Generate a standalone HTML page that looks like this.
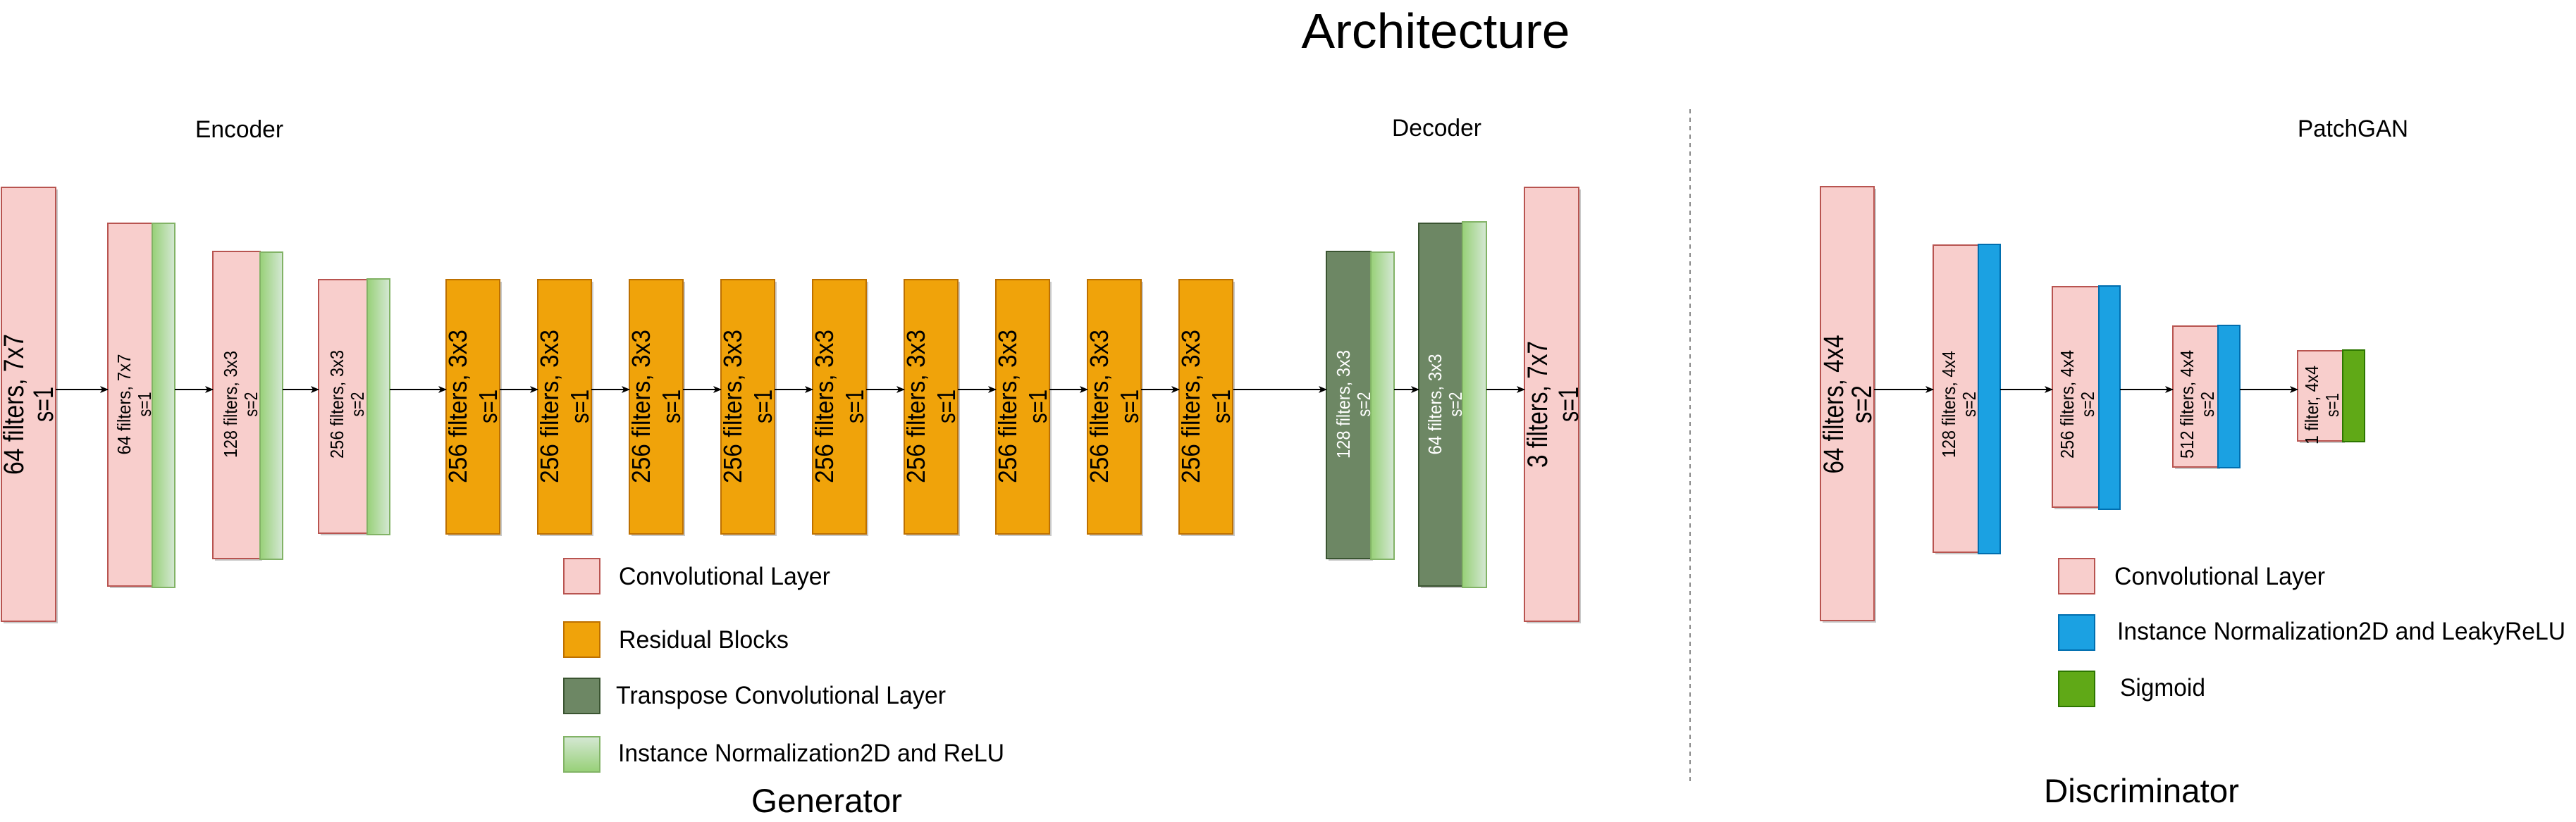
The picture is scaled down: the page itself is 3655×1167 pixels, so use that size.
<!DOCTYPE html>
<html><head><meta charset="utf-8">
<style>
html,body{margin:0;padding:0;background:#fff;}
svg{display:block;font-family:"Liberation Sans",Arial,sans-serif;}
</style></head>
<body>
<svg width="3655" height="1167" viewBox="0 0 3655 1167" xmlns="http://www.w3.org/2000/svg">
<defs>
<linearGradient id="gH" x1="0" y1="0" x2="1" y2="0"><stop offset="0" stop-color="#97d077"/><stop offset="1" stop-color="#d5e8d4"/></linearGradient>
<linearGradient id="gV" x1="0" y1="0" x2="0" y2="1"><stop offset="0" stop-color="#d5e8d4"/><stop offset="1" stop-color="#97d077"/></linearGradient>
<marker id="ah" markerWidth="12" markerHeight="10" refX="11" refY="5" orient="auto" markerUnits="userSpaceOnUse"><path d="M0,0 L12,5 L0,10 L3,5 Z" fill="#000"/></marker>
</defs>
<rect width="3655" height="1167" fill="#fff"/>

<text x="2037" y="68" font-size="70" text-anchor="middle" textLength="381" lengthAdjust="spacingAndGlyphs">Architecture</text>
<text x="277" y="195" font-size="34" textLength="125" lengthAdjust="spacingAndGlyphs">Encoder</text>
<text x="1975" y="193" font-size="34" textLength="127" lengthAdjust="spacingAndGlyphs">Decoder</text>
<text x="3260" y="194" font-size="34" textLength="157" lengthAdjust="spacingAndGlyphs">PatchGAN</text>
<line x1="2398" y1="155" x2="2398" y2="1114" stroke="#888" stroke-width="2" stroke-dasharray="6,6"/>

<g id="shadows" fill="#c8c8c8">
<rect x="5" y="269" width="77" height="616"/>
<rect x="156" y="320" width="63" height="515"/>
<rect x="305" y="360" width="67" height="436"/>
<rect x="455" y="400" width="69" height="360"/>
<rect x="1885" y="360" width="63" height="436"/>
<rect x="2016" y="320" width="62" height="515"/>
<rect x="2166" y="269" width="77" height="616"/>
<rect x="2586" y="268" width="76" height="616"/>
<rect x="2746" y="351" width="64" height="436"/>
<rect x="2915" y="410" width="66" height="313"/>
<rect x="3086" y="466" width="64" height="200"/>
<rect x="3263" y="501" width="64" height="128"/>
</g>

<g stroke-width="2">
<rect x="2" y="266" width="77" height="616" fill="#f8cecc" stroke="#b85450"/>
<rect x="153" y="317" width="63" height="515" fill="#f8cecc" stroke="#b85450"/>
<rect x="216" y="317" width="32" height="517" fill="url(#gH)" stroke="#82b366"/>
<rect x="302" y="357" width="67" height="436" fill="#f8cecc" stroke="#b85450"/>
<rect x="369" y="358" width="32" height="436" fill="url(#gH)" stroke="#82b366"/>
<rect x="452" y="397" width="69" height="360" fill="#f8cecc" stroke="#b85450"/>
<rect x="521" y="396" width="32" height="363" fill="url(#gH)" stroke="#82b366"/>
</g>

<g id="res" stroke-width="2"></g>

<g stroke-width="2">
<rect x="1882" y="357" width="63" height="436" fill="#6d8764" stroke="#3a5431"/>
<rect x="1945" y="358" width="33" height="436" fill="url(#gH)" stroke="#82b366"/>
<rect x="2013" y="317" width="62" height="515" fill="#6d8764" stroke="#3a5431"/>
<rect x="2075" y="315" width="34" height="519" fill="url(#gH)" stroke="#82b366"/>
<rect x="2163" y="266" width="77" height="616" fill="#f8cecc" stroke="#b85450"/>

<rect x="2583" y="265" width="76" height="616" fill="#f8cecc" stroke="#b85450"/>
<rect x="2743" y="348" width="64" height="436" fill="#f8cecc" stroke="#b85450"/>
<rect x="2807" y="347" width="31" height="439" fill="#1ba1e2" stroke="#006eaf"/>
<rect x="2912" y="407" width="66" height="313" fill="#f8cecc" stroke="#b85450"/>
<rect x="2978" y="406" width="30" height="317" fill="#1ba1e2" stroke="#006eaf"/>
<rect x="3083" y="463" width="64" height="200" fill="#f8cecc" stroke="#b85450"/>
<rect x="3147" y="462" width="31" height="202" fill="#1ba1e2" stroke="#006eaf"/>
<rect x="3260" y="498" width="64" height="128" fill="#f8cecc" stroke="#b85450"/>
<rect x="3324" y="497" width="31" height="130" fill="#60a917" stroke="#2d7600"/>
</g>

<g id="arrows" stroke="#000" stroke-width="2" marker-end="url(#ah)">
<line x1="79" y1="553" x2="153" y2="553"/>
<line x1="248" y1="553" x2="302" y2="553"/>
<line x1="401" y1="553" x2="452" y2="553"/>
<line x1="553" y1="553" x2="633" y2="553"/>
<line x1="1750" y1="553" x2="1882" y2="553"/>
<line x1="1978" y1="553" x2="2013" y2="553"/>
<line x1="2109" y1="553" x2="2163" y2="553"/>
<line x1="2659" y1="553" x2="2743" y2="553"/>
<line x1="2838" y1="553" x2="2912" y2="553"/>
<line x1="3008" y1="553" x2="3083" y2="553"/>
<line x1="3178" y1="553" x2="3260" y2="553"/>
</g>

<g text-anchor="middle" lengthAdjust="spacingAndGlyphs">
<text transform="translate(40,574) rotate(-90)" font-size="40"><tspan x="0" y="-7" textLength="200" lengthAdjust="spacingAndGlyphs">64 filters, 7x7</tspan><tspan x="0" y="35" textLength="50" lengthAdjust="spacingAndGlyphs">s=1</tspan></text>
<text transform="translate(190,574) rotate(-90)" font-size="26"><tspan x="0" y="-5" textLength="143" lengthAdjust="spacingAndGlyphs">64 filters, 7x7</tspan><tspan x="0" y="24" textLength="35" lengthAdjust="spacingAndGlyphs">s=1</tspan></text>
<text transform="translate(341,574) rotate(-90)" font-size="26"><tspan x="0" y="-5" textLength="152" lengthAdjust="spacingAndGlyphs">128 filters, 3x3</tspan><tspan x="0" y="24" textLength="35" lengthAdjust="spacingAndGlyphs">s=2</tspan></text>
<text transform="translate(492,574) rotate(-90)" font-size="26"><tspan x="0" y="-5" textLength="154" lengthAdjust="spacingAndGlyphs">256 filters, 3x3</tspan><tspan x="0" y="24" textLength="35" lengthAdjust="spacingAndGlyphs">s=2</tspan></text>
<text transform="translate(1920,574) rotate(-90)" font-size="26" fill="#fff"><tspan x="0" y="-5" textLength="154" lengthAdjust="spacingAndGlyphs">128 filters, 3x3</tspan><tspan x="0" y="24" textLength="35" lengthAdjust="spacingAndGlyphs">s=2</tspan></text>
<text transform="translate(2050,574) rotate(-90)" font-size="26" fill="#fff"><tspan x="0" y="-5" textLength="143" lengthAdjust="spacingAndGlyphs">64 filters, 3x3</tspan><tspan x="0" y="24" textLength="35" lengthAdjust="spacingAndGlyphs">s=2</tspan></text>
<text transform="translate(2203,574) rotate(-90)" font-size="40"><tspan x="0" y="-8" textLength="180" lengthAdjust="spacingAndGlyphs">3 filters, 7x7</tspan><tspan x="0" y="36" textLength="50" lengthAdjust="spacingAndGlyphs">s=1</tspan></text>
<text transform="translate(2621,574) rotate(-90)" font-size="40"><tspan x="0" y="-6" textLength="197" lengthAdjust="spacingAndGlyphs">64 filters, 4x4</tspan><tspan x="0" y="34" textLength="54" lengthAdjust="spacingAndGlyphs">s=2</tspan></text>
<text transform="translate(2779,574) rotate(-90)" font-size="26"><tspan x="0" y="-5" textLength="152" lengthAdjust="spacingAndGlyphs">128 filters, 4x4</tspan><tspan x="0" y="24" textLength="36" lengthAdjust="spacingAndGlyphs">s=2</tspan></text>
<text transform="translate(2947,574) rotate(-90)" font-size="26"><tspan x="0" y="-5" textLength="154" lengthAdjust="spacingAndGlyphs">256 filters, 4x4</tspan><tspan x="0" y="24" textLength="36" lengthAdjust="spacingAndGlyphs">s=2</tspan></text>
<text transform="translate(3117,574) rotate(-90)" font-size="26"><tspan x="0" y="-5" textLength="154" lengthAdjust="spacingAndGlyphs">512 filters, 4x4</tspan><tspan x="0" y="24" textLength="36" lengthAdjust="spacingAndGlyphs">s=2</tspan></text>
<text transform="translate(3294,575) rotate(-90)" font-size="26"><tspan x="0" y="-5" textLength="112" lengthAdjust="spacingAndGlyphs">1 filter, 4x4</tspan><tspan x="0" y="24" textLength="34" lengthAdjust="spacingAndGlyphs">s=1</tspan></text>
</g>

<g stroke-width="2">
<rect x="800" y="793" width="51" height="50" fill="#f8cecc" stroke="#b85450"/>
<rect x="800" y="883" width="51" height="50" fill="#f0a30a" stroke="#bd7000"/>
<rect x="800" y="963" width="51" height="50" fill="#6d8764" stroke="#3a5431"/>
<rect x="800" y="1046" width="51" height="50" fill="url(#gV)" stroke="#82b366"/>
<rect x="2921" y="793" width="51" height="50" fill="#f8cecc" stroke="#b85450"/>
<rect x="2921" y="873" width="51" height="50" fill="#1ba1e2" stroke="#006eaf"/>
<rect x="2921" y="953" width="51" height="50" fill="#60a917" stroke="#2d7600"/>
</g>
<g font-size="35">
<text x="878" y="830" textLength="300" lengthAdjust="spacingAndGlyphs">Convolutional Layer</text>
<text x="878" y="920" textLength="241" lengthAdjust="spacingAndGlyphs">Residual Blocks</text>
<text x="874" y="999" textLength="468" lengthAdjust="spacingAndGlyphs">Transpose Convolutional Layer</text>
<text x="877" y="1081" textLength="548" lengthAdjust="spacingAndGlyphs">Instance Normalization2D and ReLU</text>
<text x="3000" y="830" textLength="299" lengthAdjust="spacingAndGlyphs">Convolutional Layer</text>
<text x="3004" y="908" textLength="636" lengthAdjust="spacingAndGlyphs">Instance Normalization2D and LeakyReLU</text>
<text x="3008" y="988" textLength="121" lengthAdjust="spacingAndGlyphs">Sigmoid</text>
</g>
<text x="1066" y="1153" font-size="47" textLength="214" lengthAdjust="spacingAndGlyphs">Generator</text>
<text x="2900" y="1139" font-size="47" textLength="277" lengthAdjust="spacingAndGlyphs">Discriminator</text>
</svg>
<script>
var NS='http://www.w3.org/2000/svg';
var res=document.getElementById('res');
var arrows=document.getElementById('arrows');
for(var i=0;i<9;i++){
  var x=633+130*i;
  var sh=document.createElementNS(NS,'rect');
  sh.setAttribute('x',x+3);sh.setAttribute('y',400);sh.setAttribute('width',76);sh.setAttribute('height',361);sh.setAttribute('fill','#c8c8c8');
  
  
  res.appendChild(sh);
  var r=document.createElementNS(NS,'rect');
  r.setAttribute('x',x);r.setAttribute('y',397);r.setAttribute('width',76);r.setAttribute('height',361);
  r.setAttribute('fill','#f0a30a');r.setAttribute('stroke','#bd7000');
  
  
  res.appendChild(r);
  var t=document.createElementNS(NS,'text');
  t.setAttribute('transform','translate('+(x+38)+',577) rotate(-90)');
  t.setAttribute('font-size','36');t.setAttribute('text-anchor','middle');
  
  
  t.innerHTML='<tspan x="0" y="-9" textLength="218" lengthAdjust="spacingAndGlyphs">256 filters, 3x3</tspan><tspan x="0" y="34" textLength="48" lengthAdjust="spacingAndGlyphs">s=1</tspan>';
  res.appendChild(t);
  if(i<8){
    var l=document.createElementNS(NS,'line');
    l.setAttribute('x1',x+76);l.setAttribute('y1',553);l.setAttribute('x2',x+130);l.setAttribute('y2',553);
    
    
    arrows.appendChild(l);
  }
}
</script>
</body></html>
